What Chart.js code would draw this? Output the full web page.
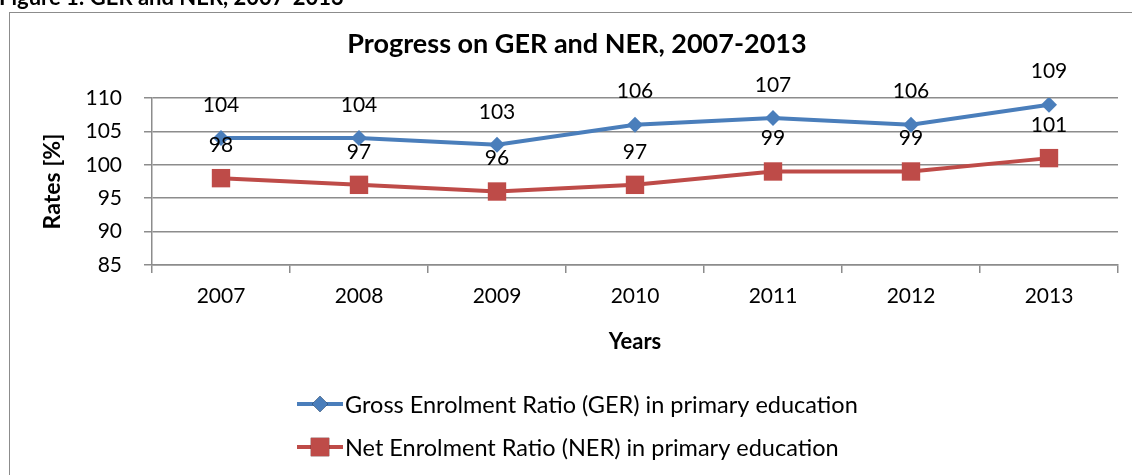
<!DOCTYPE html>
<html>
<head>
<meta charset="utf-8">
<script src="https://cdn.jsdelivr.net/npm/chart.js@4.4.1/dist/chart.umd.min.js"></script>
<style>
    html, body { margin: 0; padding: 0; background: #fff; }
    #wrap { width: 1132px; height: 475px; position: relative; }
</style>
</head>
<body>
<div id="wrap"><canvas id="enrolChart"></canvas></div>
<script>
const years = ['2007', '2008', '2009', '2010', '2011', '2012', '2013']
const gerValues = [104, 104, 103, 106, 107, 106, 109]
const nerValues = [98, 97, 96, 97, 99, 99, 101]
const gerLabel = 'Gross Enrolment Ratio (GER) in primary education'
const nerLabel = 'Net Enrolment Ratio (NER) in primary education'

const fontFamily = 'Lato, "Open Sans", sans-serif'
const gridGray = '#8c8c8c'

// frame, caption, title, point labels and the stacked legend
const decorations = {
    id: 'decorations',
    beforeDraw(chart) {
        const ctx = chart.ctx
        ctx.save()
        ctx.fillStyle = '#fff'
        ctx.fillRect(0, 0, chart.width, chart.height)
        ctx.strokeStyle = gridGray
        ctx.lineWidth = 1
        ctx.strokeRect(9.5, 12.5, chart.width + 20, chart.height + 20)
        ctx.fillStyle = '#000'
        ctx.font = 'bold 22px ' + fontFamily
        ctx.textBaseline = 'alphabetic'
        ctx.textAlign = 'left'
        ctx.fillText('Figure 1: GER and NER, 2007-2013', -1, 5)
        ctx.font = 'bold 27px ' + fontFamily
        ctx.textAlign = 'center'
        ctx.textBaseline = 'middle'
        ctx.fillText('Progress on GER and NER, 2007-2013', 577, 44)
        ctx.restore()
    },
    afterDatasetsDraw(chart) {
        const ctx = chart.ctx
        ctx.save()
        ctx.fillStyle = '#000'
        ctx.font = '21px ' + fontFamily
        ctx.textAlign = 'center'
        ctx.textBaseline = 'middle'
        chart.data.datasets.forEach((ds, i) => {
            chart.getDatasetMeta(i).data.forEach((pt, j) => {
                ctx.fillText(String(ds.data[j]), pt.x, pt.y - 33)
            })
        })

        // legend, one entry per row
        const rows = [404, 447]
        chart.data.datasets.forEach((ds, i) => {
            const y = rows[i]
            const x0 = 297
            ctx.strokeStyle = ds.borderColor
            ctx.lineWidth = 4
            ctx.beginPath()
            ctx.moveTo(x0, y)
            ctx.lineTo(x0 + 46, y)
            ctx.stroke()
            Chart.helpers.drawPoint(ctx, {
                pointStyle: ds.pointStyle,
                radius: ds.pointRadius,
                borderWidth: 0
            }, x0 + 23, y)
            ctx.fillStyle = ds.backgroundColor
            ctx.fill()
            ctx.fillStyle = '#000'
            ctx.font = '23.5px ' + fontFamily
            ctx.textAlign = 'left'
            ctx.fillText(ds.label, x0 + 48, y + 1)
        })
        ctx.restore()
    }
}

new Chart(document.getElementById('enrolChart'), {
    type: 'line',

    data: {
        labels: years,

        datasets: [
            {
                label: gerLabel,
                data: gerValues,
                borderColor: '#4a7ebb',
                backgroundColor: '#4a7ebb',
                borderWidth: 4,
                pointStyle: 'rectRot',
                pointRadius: 8,
                pointHoverRadius: 8,
                pointBorderWidth: 0,
                tension: 0
            },
            {
                label: nerLabel,
                data: nerValues,
                borderColor: '#be4b48',
                backgroundColor: '#be4b48',
                borderWidth: 4,
                pointStyle: 'rect',
                pointRadius: 13,
                pointHoverRadius: 13,
                pointBorderWidth: 0,
                tension: 0
            }
        ]
    },

    options: {
        responsive: true,
        maintainAspectRatio: false,
        animation: false,
        events: [],

        layout: {
            padding: { top: 98, left: 0, right: 14, bottom: 120 }
        },

        plugins: {
            legend: { display: false },
            title: { display: false },
            tooltip: { enabled: false }
        },

        scales: {
            x: {
                offset: true,
                grid: {
                    offset: true,
                    drawOnChartArea: false,
                    drawTicks: true,
                    tickLength: 8,
                    color: gridGray,
                    lineWidth: 1.5
                },
                border: { color: gridGray, width: 1.5 },
                ticks: {
                    color: '#000',
                    font: { family: fontFamily, size: 21 },
                    padding: 11,
                    maxRotation: 0
                },
                title: {
                    display: true,
                    text: 'Years',
                    color: '#000',
                    font: { family: fontFamily, size: 22, weight: 'bold' },
                    padding: { top: 6, bottom: 0 }
                },
                afterFit(scale) {
                    scale.height = 90
                }
            },
            y: {
                min: 85,
                max: 110,
                ticks: {
                    stepSize: 5,
                    color: '#000',
                    font: { family: fontFamily, size: 21 },
                    padding: 22
                },
                grid: {
                    color: gridGray,
                    lineWidth: 1.5,
                    tickLength: 8
                },
                border: { color: gridGray, width: 1.5 },
                title: {
                    display: true,
                    text: 'Rates [%]',
                    color: '#000',
                    font: { family: fontFamily, size: 23, weight: 'bold' },
                    padding: { top: 39, bottom: 0 }
                },
                afterFit(scale) {
                    scale.width = 152
                }
            }
        }
    },

    plugins: [decorations]
})
</script>
</body>
</html>
